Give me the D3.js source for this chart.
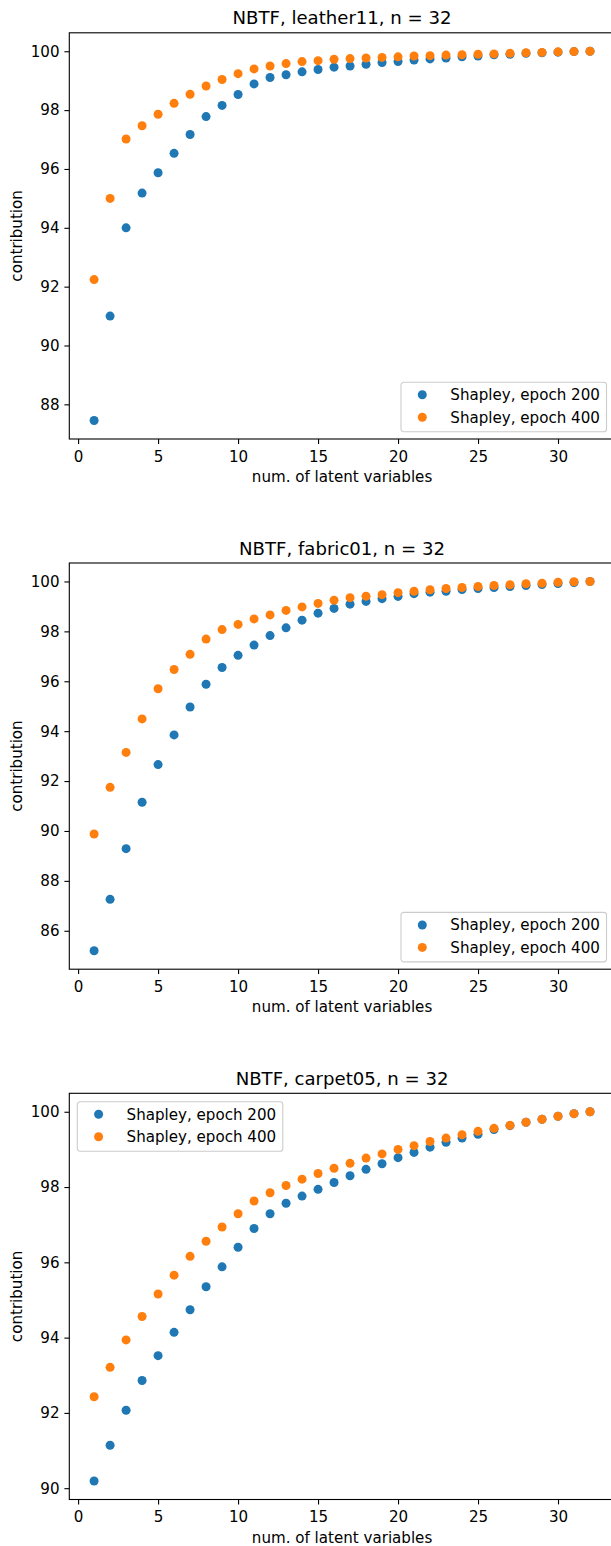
<!DOCTYPE html>
<html>
<head>
<meta charset="utf-8">
<script src="https://cdn.jsdelivr.net/npm/d3@7"></script>
<style>
	body { margin: 0; background: #fff; }
	svg { display: block; }
</style>
</head>
<body>
<svg id="chart" width="611" height="1546"></svg>
<script>
const numLatent = [1, 2, 3, 4, 5, 6, 7, 8, 9, 10, 11, 12, 13, 14, 15, 16,
	17, 18, 19, 20, 21, 22, 23, 24, 25, 26, 27, 28, 29, 30, 31, 32];
const xTicks = [0, 5, 10, 15, 20, 25, 30];
const seriesNames = ["Shapley, epoch 200", "Shapley, epoch 400"];

const leatherTitle = "NBTF, leather11, n = 32";
const leather200 = [87.45, 91.0, 94.0, 95.18, 95.87, 96.53, 97.17, 97.78, 98.16, 98.53, 98.89, 99.11, 99.2, 99.3, 99.38, 99.46,
	99.5, 99.56, 99.62, 99.65, 99.7, 99.74, 99.77, 99.81, 99.84, 99.88, 99.9, 99.93, 99.95, 99.97, 99.99, 100.0];
const leather400 = [92.24, 95.0, 97.02, 97.47, 97.86, 98.23, 98.54, 98.82, 99.04, 99.24, 99.4, 99.5, 99.58, 99.65, 99.68, 99.73,
	99.75, 99.77, 99.79, 99.81, 99.84, 99.85, 99.87, 99.88, 99.9, 99.91, 99.93, 99.95, 99.96, 99.98, 99.99, 100.0];
const leatherTicks = [88, 90, 92, 94, 96, 98, 100];

const fabricTitle = "NBTF, fabric01, n = 32";
const fabric200 = [85.2, 87.26, 89.29, 91.15, 92.66, 93.85, 94.97, 95.88, 96.55, 97.04, 97.45, 97.83, 98.14, 98.45, 98.73, 98.92,
	99.09, 99.2, 99.31, 99.4, 99.51, 99.57, 99.61, 99.68, 99.72, 99.76, 99.8, 99.84, 99.88, 99.92, 99.96, 100.0];
const fabric400 = [89.88, 91.75, 93.15, 94.49, 95.7, 96.47, 97.08, 97.69, 98.07, 98.28, 98.5, 98.66, 98.84, 98.98, 99.12, 99.25,
	99.35, 99.41, 99.47, 99.55, 99.61, 99.67, 99.72, 99.76, 99.8, 99.84, 99.87, 99.91, 99.93, 99.97, 99.99, 100.0];
const fabricTicks = [86, 88, 90, 92, 94, 96, 98, 100];

const carpetTitle = "NBTF, carpet05, n = 32";
const carpet200 = [90.19, 91.14, 92.07, 92.86, 93.52, 94.14, 94.74, 95.35, 95.88, 96.4, 96.9, 97.29, 97.57, 97.76, 97.94, 98.12,
	98.3, 98.47, 98.62, 98.78, 98.92, 99.06, 99.19, 99.3, 99.4, 99.53, 99.63, 99.72, 99.8, 99.88, 99.95, 100.0];
const carpet400 = [92.43, 93.21, 93.94, 94.56, 95.16, 95.66, 96.16, 96.56, 96.94, 97.29, 97.63, 97.85, 98.04, 98.21, 98.36, 98.5,
	98.63, 98.77, 98.88, 99.0, 99.1, 99.21, 99.3, 99.39, 99.48, 99.56, 99.64, 99.72, 99.8, 99.88, 99.95, 100.0];
const carpetTicks = [90, 92, 94, 96, 98, 100];

const colors = ["#1f77b4", "#ff7f0e"];
const font = "DejaVu Sans";
const tickFont = 15.1;
const titleFont = 18.1;

const chart = d3.select("#chart");
const left = 69.3;
const right = 614.8;
const panelHeight = 406.2;

// matplotlib style 5% margins
function padded(values) {
	const ext = d3.extent(values);
	const p = (ext[1] - ext[0]) * 0.05;
	return [ext[0] - p, ext[1] + p];
}

function drawPanel(top, title, s200, s400, yTicks, legendPos) {
	const bottom = top + panelHeight;
	const g = chart.append("g");

	const x = d3.scaleLinear()
		.domain(padded(numLatent))
		.range([left, right]);
	const y = d3.scaleLinear()
		.domain(padded(s200.concat(s400)))
		.range([bottom, top]);

	const xaxis = g.append("g")
		.attr("transform", "translate(0," + bottom + ")")
		.call(d3.axisBottom(x).tickValues(xTicks).tickSize(4.9).tickSizeOuter(0).tickPadding(6.9));
	const yaxis = g.append("g")
		.attr("transform", "translate(" + left + ",0)")
		.call(d3.axisLeft(y).tickValues(yTicks).tickSize(4.9).tickSizeOuter(0).tickPadding(4.9));

	[xaxis, yaxis].forEach(function(a) {
		a.select(".domain").remove();
		a.attr("font-family", font).attr("font-size", tickFont);
		a.selectAll("line").attr("stroke", "#000").attr("stroke-width", 1.1);
		a.selectAll("text").attr("fill", "#000");
	});

	// spines
	g.append("rect")
		.attr("x", left)
		.attr("y", top)
		.attr("width", right - left)
		.attr("height", bottom - top)
		.attr("fill", "none")
		.attr("stroke", "#000")
		.attr("stroke-width", 1.1);

	const series = [s200, s400];
	series.forEach(function(s, i) {
		g.append("g").selectAll("circle")
			.data(s)
			.enter()
			.append("circle")
			.attr("cx", function(d, idx) { return x(numLatent[idx]); })
			.attr("cy", function(d) { return y(d); })
			.attr("r", 4.5)
			.attr("fill", colors[i]);
	});

	g.append("text")
		.text(title)
		.attr("x", (left + right) / 2)
		.attr("y", top - 8.5)
		.attr("text-anchor", "middle")
		.attr("font-family", font)
		.attr("font-size", titleFont);

	g.append("text")
		.text("num. of latent variables")
		.attr("x", (left + right) / 2)
		.attr("y", bottom + 43)
		.attr("text-anchor", "middle")
		.attr("font-family", font)
		.attr("font-size", tickFont);

	g.append("text")
		.text("contribution")
		.attr("transform", "translate(21.5," + ((top + bottom) / 2) + ") rotate(-90)")
		.attr("text-anchor", "middle")
		.attr("font-family", font)
		.attr("font-size", tickFont);

	// legend
	const lw = 205.5;
	const lh = 49.5;
	let lx, ly;
	if (legendPos === "lower right") {
		lx = right - 8.3 - lw;
		ly = bottom - 7.3 - lh;
	} else {
		lx = left + 8;
		ly = top + 8.4;
	}
	const legend = g.append("g").attr("transform", "translate(" + lx + "," + ly + ")");
	legend.append("rect")
		.attr("width", lw)
		.attr("height", lh)
		.attr("rx", 2.8)
		.attr("fill", "#fff")
		.attr("fill-opacity", 0.8)
		.attr("stroke", "#cccccc")
		.attr("stroke-width", 1.1);
	seriesNames.forEach(function(name, i) {
		const cy = 12.6 + i * 22.4;
		legend.append("circle")
			.attr("cx", 21.3)
			.attr("cy", cy)
			.attr("r", 4.5)
			.attr("fill", colors[i]);
		legend.append("text")
			.text(name)
			.attr("x", 49.3)
			.attr("y", cy)
			.attr("dy", "0.36em")
			.attr("font-family", font)
			.attr("font-size", tickFont);
	});
}

drawPanel(32.8, leatherTitle, leather200, leather400, leatherTicks, "lower right");
drawPanel(563.0, fabricTitle, fabric200, fabric400, fabricTicks, "lower right");
drawPanel(1093.3, carpetTitle, carpet200, carpet400, carpetTicks, "upper left");
</script>
</body>
</html>
